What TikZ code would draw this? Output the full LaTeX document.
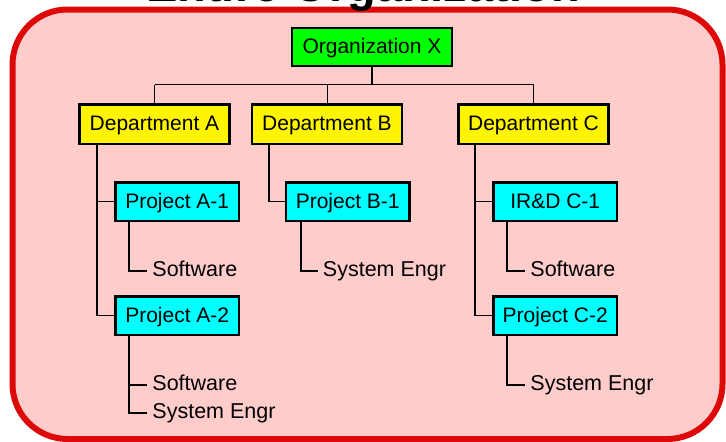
\documentclass[tikz,border=0pt]{standalone}
\usepackage{fontspec}
\setmainfont{Liberation Sans}
\usetikzlibrary{positioning}
\definecolor{framered}{RGB}{221,8,8}
\definecolor{framepink}{RGB}{255,204,204}
\definecolor{orggreen}{RGB}{0,255,0}
\definecolor{deptyellow}{RGB}{255,245,0}
\definecolor{projcyan}{RGB}{0,255,255}
\tikzset{
  box/.style={draw,rectangle,line width=2.5pt,inner sep=0pt,font=\fontsize{21}{25}\selectfont,text height=15pt,text depth=1.5pt},
  orgbox/.style={box,fill=orggreen,minimum width=160pt,minimum height=38pt},
  deptbox/.style={box,fill=deptyellow,minimum width=150pt,minimum height=39.5pt},
  projbox/.style={box,fill=projcyan,minimum width=123.5pt,minimum height=38.5pt},
  leaf/.style={anchor=west,inner xsep=5pt,inner ysep=0pt,font=\fontsize{21.5}{25}\selectfont,text height=11pt,text depth=0pt},
  link/.style={line width=1.8pt},
  thinlink/.style={line width=1pt}
}

\begin{document}
\begin{tikzpicture}[x=1pt,y=-1pt]
\useasboundingbox (0,0) rectangle (726,442);

\draw[framered,fill=framepink,line width=6pt,rounded corners=55pt] (12.5,9.5) rectangle (722.5,439);
\node[font=\bfseries\fontsize{47}{56}\selectfont,anchor=base,inner sep=0pt] (title) at (363,1) {Entire Organization};

\node[orgbox] (orgx) at (372,47) {Organization X};

\node[deptbox] (depta) at (154.5,124) {Department A};
\node[deptbox,right=20pt of depta] (deptb) {Department B};
\node[deptbox,right=54pt of deptb] (deptc) {Department C};

\node[projbox,below right=36pt and 36pt of depta.south west] (proja1) {Project A-1};
\node[projbox,below=73pt of proja1] (proja2) {Project A-2};
\node[projbox,below right=36pt and 34pt of deptb.south west] (projb1) {Project B-1};
\node[projbox,below right=36pt and 35pt of deptc.south west] (irdc1) {IR\&D C-1};
\node[projbox,below=73pt of irdc1] (projc2) {Project C-2};

\node[leaf] (swa1) at ([xshift=33pt,yshift=-49pt]proja1.south west) {Software};
\node[leaf] (swa2) at ([xshift=33pt,yshift=-49pt]proja2.south west) {Software};
\node[leaf] (sea2) at ([xshift=33pt,yshift=-77pt]proja2.south west) {System Engr};
\node[leaf] (seb1) at ([xshift=33pt,yshift=-49pt]projb1.south west) {System Engr};
\node[leaf] (swc1) at ([xshift=33pt,yshift=-49pt]irdc1.south west) {Software};
\node[leaf] (sec2) at ([xshift=33pt,yshift=-49pt]projc2.south west) {System Engr};

\coordinate (bar) at (0,84.5);
\draw[link] (orgx.south) -- (orgx.south |- bar);
\draw[link] (depta.north |- bar) -- (deptc.north |- bar);
\foreach \d in {depta,deptb,deptc}
  \draw[thinlink] (\d.north |- bar) -- (\d.north);

\draw[link] ([xshift=19pt]depta.south west) |- (proja1.west);
\draw[link] ([xshift=19pt]depta.south west) |- (proja2.west);
\draw[link] ([xshift=18pt]deptb.south west) |- (projb1.west);
\draw[link] ([xshift=18pt]deptc.south west) |- (irdc1.west);
\draw[link] ([xshift=18pt]deptc.south west) |- (projc2.west);

\draw[link] ([xshift=15pt]proja1.south west) |- (swa1.west);
\draw[link] ([xshift=15pt]proja2.south west) |- (swa2.west);
\draw[link] ([xshift=15pt]proja2.south west) |- (sea2.west);
\draw[link] ([xshift=16pt]projb1.south west) |- (seb1.west);
\draw[link] ([xshift=15pt]irdc1.south west) |- (swc1.west);
\draw[link] ([xshift=15pt]projc2.south west) |- (sec2.west);
\end{tikzpicture}
\end{document}
